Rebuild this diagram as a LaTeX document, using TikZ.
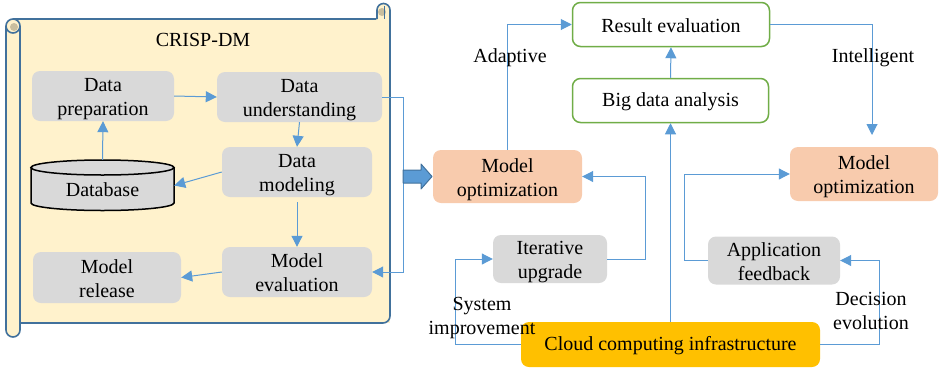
\documentclass[tikz,border=0pt]{standalone}
\usepackage{fontspec}
\setmainfont{Liberation Serif}
\usetikzlibrary{arrows.meta}
\definecolor{scrollfill}{HTML}{FFF2CC}
\definecolor{scrollline}{HTML}{41719C}
\definecolor{curlfill}{HTML}{C9BE9E}
\definecolor{boxgray}{HTML}{D9D9D9}
\definecolor{boxorange}{HTML}{F8CBAD}
\definecolor{boxgold}{HTML}{FFC000}
\definecolor{boxgreen}{HTML}{70AD47}
\definecolor{linkblue}{HTML}{5B9BD5}
% two centred lines, set a little low inside their box
\newcommand{\pair}[2]{\raisebox{-3pt}[\height][\depth]{\begin{tabular}{@{}c@{}}#1\\#2\end{tabular}}}
% one line, set a little low inside its box
\newcommand{\single}[1]{\raisebox{-1.5pt}[\height][\depth]{#1}}
\begin{document}
\begin{tikzpicture}[x=1pt,y=1pt,
  every node/.style={font=\fontsize{20}{24}\selectfont, inner sep=0pt, align=center},
  graybox/.style={fill=boxgray, rounded corners=8pt},
  orangebox/.style={fill=boxorange, rounded corners=8pt},
  goldbox/.style={fill=boxgold, rounded corners=8pt},
  greenbox/.style={fill=white, draw=boxgreen, line width=1.5pt, rounded corners=8pt},
  link/.style={draw=linkblue, line width=1pt, -{Triangle[length=11pt,width=11pt]}, color=linkblue},
  scrolledge/.style={draw=scrollline, line width=1.6pt, line join=round},
]
\useasboundingbox (0,0) rectangle (939,-370);

% ---------- CRISP-DM scroll ----------
\fill[scrollfill] (13,-19) rectangle (390,-323);
\draw[scrolledge] (13,-19) -- (390,-19);
\draw[scrolledge, fill=scrollfill] (377,-19) -- (377,-10) arc (180:0:6.5) -- (390,-316) arc (0:-90:7) -- (20,-323);
\fill[curlfill] (382,-12) circle (4);
\draw[scrollline, line width=1pt] (384,-6) -- (384,-19);
\draw[scrolledge, fill=scrollfill] (6,-26) -- (6,-330) arc (180:360:7) -- (20,-26);
\draw[scrolledge, fill=scrollfill] (13,-26) circle (7);
\fill[curlfill] (14,-27) circle (4);

\node (crisp) at (203,-40) {CRISP-DM};

\node[graybox, minimum width=142pt, minimum height=50pt] (dp) at (103,-96) {\pair{Data}{preparation}};
\node[graybox, minimum width=165pt, minimum height=50pt] (du) at (299.5,-97) {\pair{Data}{understanding}};
\node[graybox, minimum width=150pt, minimum height=50pt] (dm) at (297,-172) {\pair{Data}{modeling}};
\node[graybox, minimum width=150pt, minimum height=50pt] (me) at (297,-272) {\pair{Model}{evaluation}};
\node[graybox, minimum width=148pt, minimum height=51pt] (mr) at (107,-277.5) {\pair{Model}{release}};

% database cylinder
\draw[fill=boxgray, line width=1.5pt] (31,-167.5) -- (31,-203) arc (180:360:71.5 and 7.5) -- (174,-167.5);
\draw[fill=boxgray, line width=1.5pt] (102.5,-167.5) ellipse (71.5 and 7.5);
\node[minimum width=143pt, minimum height=51pt] (db) at (102.5,-185.5) {};
\node (dbtext) at (102.5,-190) {Database};

\draw[link] (dp.east) -- (du.west);
\draw[link] (du.south) -- (dm.north);
\draw[link] (dm.west) -- (db.east);
\draw[link] (db.north) -- (dp.south);
\draw[link, shorten <=5pt] (dm.south) -- (me.north);
\draw[link] (me.west) -- (mr.east);
\draw[link] (du.east) -- ++(21,0) |- (me.east);

% ---------- block arrow ----------
\draw[fill=linkblue, draw=scrollline, line width=1pt, line join=round]
  (403,-170) -- (421,-170) -- (421,-164) -- (432,-176.5) -- (421,-189) -- (421,-183) -- (403,-183) -- cycle;

% ---------- right part ----------
\node[orangebox, minimum width=149pt, minimum height=53pt] (mol) at (507.5,-176.5) {\pair{Model}{optimization}};
\node[greenbox, minimum width=197pt, minimum height=44pt] (re) at (671,-24.5) {\single{Result evaluation}};
\node[greenbox, minimum width=196pt, minimum height=44pt] (bda) at (670.5,-100.5) {\single{Big data analysis}};
\node[orangebox, minimum width=148pt, minimum height=54pt] (mor) at (864,-174) {\pair{Model}{optimization}};
\node[graybox, minimum width=114pt, minimum height=44pt] (iu) at (550,-259) {\pair{Iterative}{upgrade}};
\node[graybox, minimum width=132pt, minimum height=45pt] (af) at (774,-260.5) {\pair{Application}{feedback}};
\node[goldbox, minimum width=299pt, minimum height=45pt] (cloud) at (670.5,-344.5) {\single{Cloud computing infrastructure}};

\coordinate (intelEnd) at (872,-135);

\draw[link] (mol.north) |- (re.west);
\draw[link] (re.east) -| (intelEnd);
\draw[link] (bda.north) -- (re.south);
\draw[link] (cloud.north) -- (bda.south);
\draw[link] (iu.east) -- ++(38,0) |- (mol.east);
\draw[link] (cloud.west) -- ++(-65,0) |- (iu.west);
\draw[link] (af.west) -- ++(-23,0) |- (mor.west);
\draw[link] (cloud.east) -- ++(59,0) |- (af.east);

\node (adaptive) at (510,-58) {Adaptive};
\node (intelligent) at (873,-58) {Intelligent};
\node (sysimp) at (482,-318) {System\\improvement};
\node (decevo) at (871,-310.5) {Decision\\evolution};
\end{tikzpicture}
\end{document}
